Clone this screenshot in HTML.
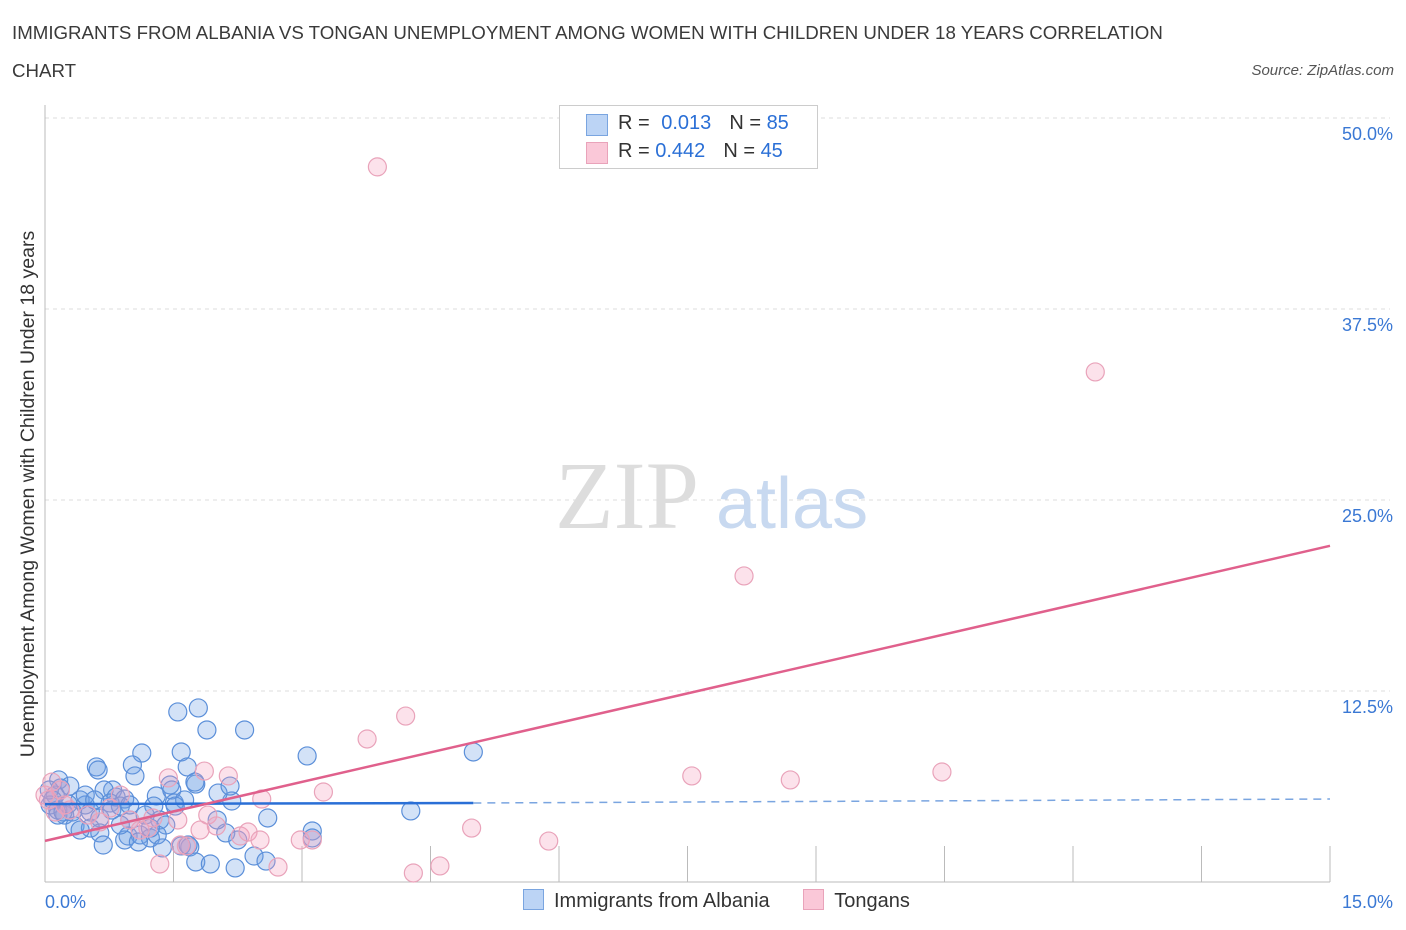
<!DOCTYPE html>
<html><head><meta charset="utf-8"><style>
body{margin:0;background:#fff;width:1406px;height:930px;overflow:hidden;font-family:"Liberation Sans",sans-serif}
.t{position:absolute;color:#3a3a3a}
</style></head><body>
<div class="t" style="left:12px;top:14px;font-size:18.7px;line-height:38px;width:1175px">IMMIGRANTS FROM ALBANIA VS TONGAN UNEMPLOYMENT AMONG WOMEN WITH CHILDREN UNDER 18 YEARS CORRELATION CHART</div>
<div class="t" style="right:12px;top:62px;font-size:15px;font-style:italic;color:#555">Source: ZipAtlas.com</div>
<svg id="c" width="1406" height="930" style="position:absolute;left:0;top:0"></svg>
<script>
const xTicks=[0,15];
const yTicks=[12.5,25,37.5,50];
const blueX=[1.55,1.79,1.89,2.33,3.06,5.00,1.59,0.60,0.62,1.13,1.02,1.05,1.66,1.76,1.46,1.30,1.48,1.27,1.51,1.63,2.18,2.02,2.16,0.79,0.69,0.83,0.93,0.76,0.47,0.41,0.18,0.12,0.06,0.15,0.23,0.32,0.53,0.64,0.78,0.35,0.53,0.64,0.99,1.17,1.34,1.41,0.97,1.11,1.23,1.31,0.93,1.09,1.37,1.59,1.69,1.76,1.93,2.22,2.44,2.58,2.60,2.11,2.25,3.12,3.12,4.27,0.16,0.29,0.05,0.09,0.15,0.47,0.58,0.88,0.68,0.21,0.27,0.99,1.75,2.01,1.52,1.67,1.23,0.88,0.41];
const blueY=[11.13,11.39,9.95,9.95,8.25,8.51,8.51,7.53,7.33,8.44,7.66,6.94,7.53,6.41,6.35,5.63,6.02,4.97,5.17,5.37,5.30,5.82,6.28,6.02,6.02,5.56,5.43,5.17,5.04,5.37,6.15,5.69,5.04,4.71,4.38,4.58,4.58,4.19,4.71,3.67,3.53,3.21,4.06,4.38,4.06,3.73,3.01,3.08,2.88,3.08,2.75,2.62,2.23,2.36,2.29,1.31,1.18,0.92,1.70,1.37,4.19,3.21,2.75,3.34,2.88,4.65,6.68,6.28,6.02,5.37,4.38,5.69,5.37,4.97,2.42,4.58,5.10,5.04,6.54,4.06,4.97,2.42,3.53,3.73,3.40];
const pinkX=[3.88,12.26,8.16,4.21,3.76,7.55,8.70,10.47,1.86,2.14,1.44,2.53,3.25,0.08,0.18,0.04,0.23,0.76,0.88,0.99,1.20,1.55,1.90,2.00,1.81,2.28,2.37,2.51,2.98,3.12,4.98,5.88,1.34,2.72,4.30,4.61,1.58,0.50,0.64,0.29,0.12,1.11,1.26,0.0,1.65];
const pinkY=[46.80,33.38,20.03,10.86,9.36,6.94,6.68,7.20,7.26,6.94,6.81,5.43,5.89,6.54,6.02,5.37,5.04,4.84,5.69,4.06,3.53,4.06,4.38,3.67,3.40,3.01,3.27,2.75,2.75,2.75,3.53,2.68,1.18,0.98,0.59,1.05,2.42,4.38,3.93,4.71,4.58,3.40,4.19,5.69,2.36];
const blueTrend=[5.10,5.17,5.43]; // at x=0, 5, 15
const pinkTrend=[2.69,22.0]; // at x=0, 15
const X=v=>45+v/15*1285, Y=v=>882-v/50*764;
const s=document.getElementById('c'),NS='http://www.w3.org/2000/svg';
function add(tag,a,txt){const e=document.createElementNS(NS,tag);for(const k in a)e.setAttribute(k,a[k]);if(txt!==undefined)e.textContent=txt;s.appendChild(e);return e;}
let e;
for(const t of yTicks){e=add('line',{x1:45,x2:1390,y1:Y(t),y2:Y(t),stroke:'#ddd','stroke-dasharray':'4,4'});

e=add('text',{x:1393,y:Y(t)+22,'text-anchor':'end','font-size':18,fill:'#3a78d4','font-family':'Liberation Sans'},t.toFixed(1)+'%');
}
e=add('line',{x1:45,x2:45,y1:105,y2:882,stroke:'#bbb'});
e=add('line',{x1:45,x2:1330,y1:882,y2:882,stroke:'#bbb'});
for(let i=1;i<=10;i++){e=add('line',{x1:X(i*1.5),x2:X(i*1.5),y1:846,y2:882,stroke:'#bbb'});}
e=add('text',{x:45,y:908,'font-size':18,fill:'#3a78d4','font-family':'Liberation Sans'},xTicks[0].toFixed(1)+'%');
e=add('text',{x:1393,y:908,'text-anchor':'end','font-size':18,fill:'#3a78d4','font-family':'Liberation Sans'},xTicks[1].toFixed(1)+'%');
e=add('text',{x:0,y:0,transform:'translate(34,494) rotate(-90)','text-anchor':'middle','font-size':19.5,fill:'#333','font-family':'Liberation Sans'},'Unemployment Among Women with Children Under 18 years');

e=add('text',{x:555,y:528,'font-size':96,fill:'#ddd','font-family':'Liberation Serif'},'ZIP');
e=add('text',{x:716,y:528,'font-size':72,fill:'#c8d9f0','font-family':'Liberation Sans'},'atlas');
for(let i=0;i<blueX.length;i++){e=add('circle',{cx:X(blueX[i]),cy:Y(blueY[i]),r:9,fill:'rgba(110,160,230,0.3)',stroke:'#5b8fd9','stroke-width':1.2});
}
for(let i=0;i<pinkX.length;i++){e=add('circle',{cx:X(pinkX[i]),cy:Y(pinkY[i]),r:9,fill:'rgba(245,160,190,0.3)',stroke:'#e9a3ba','stroke-width':1.2});
}
e=add('line',{x1:X(0),y1:Y(blueTrend[0]),x2:X(5),y2:Y(blueTrend[1]),stroke:'#2a6fd6','stroke-width':2.5});
e=add('line',{x1:X(5),y1:Y(blueTrend[1]),x2:X(15),y2:Y(blueTrend[2]),stroke:'#7aa5e0','stroke-width':1.5,'stroke-dasharray':'8,6'});
e=add('line',{x1:X(0),y1:Y(pinkTrend[0]),x2:X(15),y2:Y(pinkTrend[1]),stroke:'#e0608c','stroke-width':2.5});
</script>
<div style="position:absolute;left:559px;top:105px;width:257px;height:62px;border:1px solid #ccc;background:#fff;font-size:20px;color:#333">
 <div style="position:absolute;left:26px;top:8px;width:20px;height:20px;background:#bcd4f5;border:1px solid #7aa5e0"></div>
 <div style="position:absolute;left:58px;top:6px">R = <span style="color:#2a6fd6;margin-left:6px">0.013</span><span style="margin-left:18px">N =</span> <span style="color:#2a6fd6">85</span></div>
 <div style="position:absolute;left:26px;top:36px;width:20px;height:20px;background:#fac8d8;border:1px solid #e9a3ba"></div>
 <div style="position:absolute;left:58px;top:34px">R = <span style="color:#2a6fd6">0.442</span><span style="margin-left:18px">N =</span> <span style="color:#2a6fd6">45</span></div>
</div>
<div style="position:absolute;left:523px;top:889px;font-size:20px;color:#333;white-space:nowrap">
 <span><span style="display:inline-block;width:19px;height:19px;background:#bcd4f5;border:1px solid #7aa5e0;vertical-align:-3px;margin-right:10px"></span>Immigrants from Albania</span>
 <span style="margin-left:28px"><span style="display:inline-block;width:19px;height:19px;background:#fac8d8;border:1px solid #e9a3ba;vertical-align:-3px;margin-right:10px"></span>Tongans</span>
</div>
</body></html>
